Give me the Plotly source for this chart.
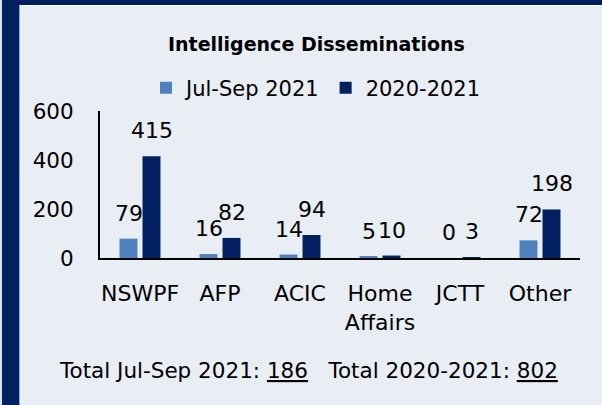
import plotly.graph_objects as go

categories = ["NSWPF", "AFP", "ACIC", "Home<br>Affairs", "JCTT", "Other"]
jul_sep_2021 = [79, 16, 14, 5, 0, 72]
fy_2020_2021 = [415, 82, 94, 10, 3, 198]
series_names = ["Jul-Sep 2021", "2020-2021"]
y_ticks = [0, 200, 400, 600]
total_jul_sep = 186
total_fy = 802

W, H = 602, 405
NAVY = "#002060"
LIGHT = "#4F81BD"
PANEL = "#E9EDF4"
FONT = "DejaVu Sans"

def px(x):
    return x / W

def py(y):
    return 1 - y / H

fig = go.Figure()
fig.add_trace(go.Bar(x=categories, y=jul_sep_2021, name=series_names[0],
                     marker=dict(color=LIGHT, line=dict(width=0))))
fig.add_trace(go.Bar(x=categories, y=fy_2020_2021, name=series_names[1],
                     marker=dict(color=NAVY, line=dict(width=0))))

annotations = []
for vals, shift in ((jul_sep_2021, -11.5), (fy_2020_2021, 11.5)):
    for c, v in zip(categories, vals):
        annotations.append(dict(x=c, y=v, xref="x", yref="y", text=str(v),
                                showarrow=False, xshift=shift, yshift=11,
                                yanchor="bottom", xanchor="center",
                                font=dict(family=FONT, size=22, color="#000")))

annotations.append(dict(x=px(316), y=py(44), xref="paper", yref="paper",
                        text="<b>Intelligence Disseminations</b>", showarrow=False,
                        xanchor="center", yanchor="middle",
                        font=dict(family=FONT, size=19, color="#000")))
annotations.append(dict(x=px(308), y=py(370), xref="paper", yref="paper",
                        text=f"Total Jul-Sep 2021: <u>{total_jul_sep}</u>   Total 2020-2021: <u>{total_fy}</u>",
                        showarrow=False, xanchor="center", yanchor="middle",
                        font=dict(family=FONT, size=21.5, color="#000")))

shapes = [
    dict(type="rect", xref="paper", yref="paper", x0=px(0), x1=px(2), y0=0, y1=1,
         fillcolor="#DDE2EA", line=dict(width=0), layer="below"),
    dict(type="rect", xref="paper", yref="paper", x0=px(2), x1=px(19), y0=0, y1=1,
         fillcolor=NAVY, line=dict(width=0), layer="below"),
    dict(type="rect", xref="paper", yref="paper", x0=px(2), x1=1, y0=py(5), y1=1,
         fillcolor=NAVY, line=dict(width=0), layer="below"),
    dict(type="rect", xref="paper", yref="paper", x0=px(19), x1=px(20), y0=0, y1=py(5),
         fillcolor="#8FAADC", line=dict(width=0), layer="below"),
    dict(type="rect", xref="paper", yref="paper", x0=px(20), x1=1, y0=py(6), y1=py(5),
         fillcolor="#FFFFFF", line=dict(width=0), layer="below"),
]

fig.update_layout(
    width=W, height=H,
    margin=dict(l=0, r=0, t=0, b=0),
    paper_bgcolor=PANEL, plot_bgcolor="rgba(0,0,0,0)",
    barmode="group", bargap=0.425, bargroupgap=0.22,
    font=dict(family=FONT, size=21, color="#000"),
    showlegend=True,
    legend=dict(orientation="h", x=px(316), xanchor="center", y=py(88), yanchor="middle",
                bgcolor="rgba(0,0,0,0)", font=dict(family=FONT, size=21, color="#000"),
                itemwidth=30, traceorder="normal"),
    xaxis=dict(domain=[px(100), px(580)], showline=True, linecolor="#000", linewidth=2,
               showgrid=False, zeroline=False, ticks="", automargin=False,
               ticklabelstandoff=15,
               tickfont=dict(family=FONT, size=22, color="#000")),
    yaxis=dict(domain=[py(258), py(111)], range=[0, 600], tickvals=y_ticks,
               showline=True, linecolor="#000", linewidth=2, showgrid=False,
               zeroline=False, ticks="", automargin=False, ticklabelstandoff=20,
               tickfont=dict(family=FONT, size=21.5, color="#000")),
    annotations=annotations,
    shapes=shapes,
)

fig.write_html("out.html", config={"displayModeBar": False},
               post_script="document.body.style.margin='0';")
